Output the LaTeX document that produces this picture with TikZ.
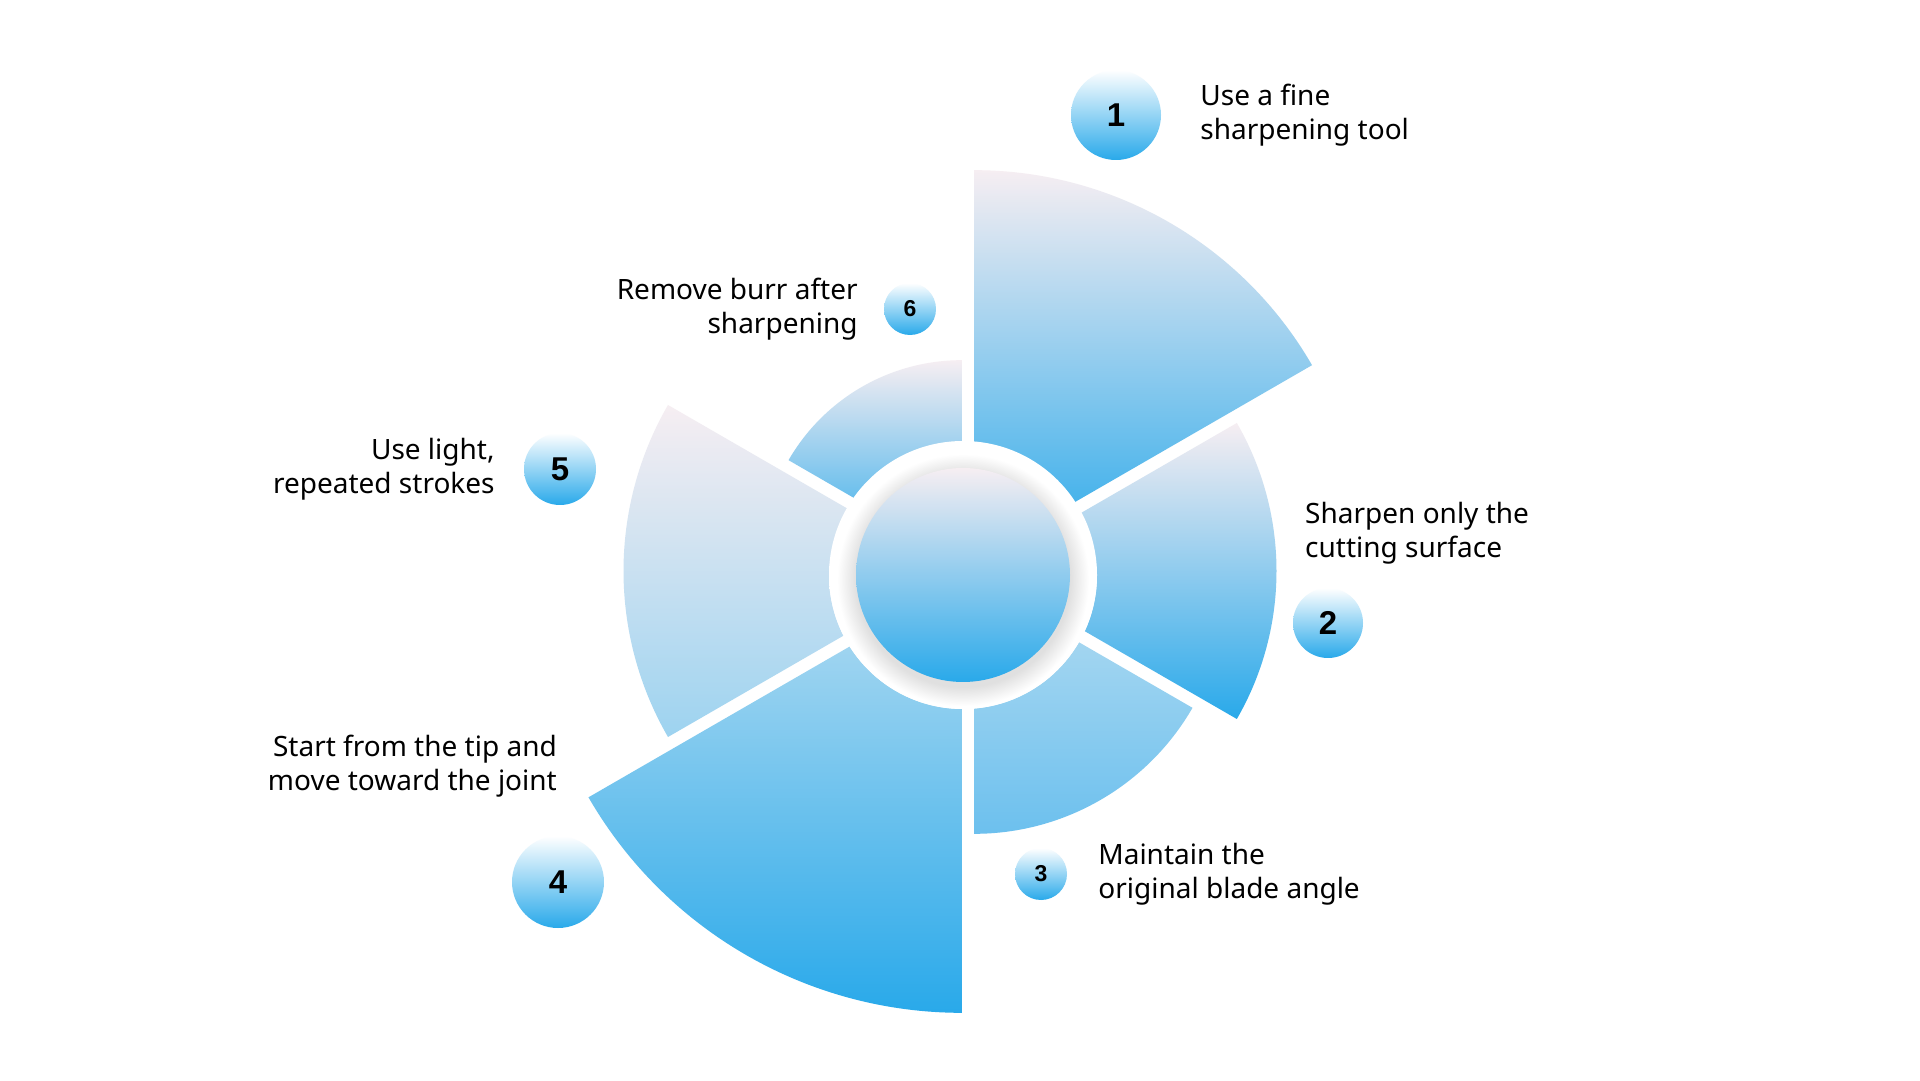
\documentclass[tikz,border=0pt]{standalone}
\usepackage{fontspec}
\setmainfont{Noto Sans}
\newfontfamily\numfont{Liberation Sans}
\usetikzlibrary{calc,positioning}

\definecolor{sky}{HTML}{29A9EA}
\definecolor{blush}{HTML}{F6EEF2}
\definecolor{pale}{HTML}{B4DCF1}
\definecolor{midsky}{HTML}{6CC0EE}
\definecolor{soft}{HTML}{9DD3F0}
% soft shadow of the hub on the white ring
\pgfdeclareradialshading{ringshade}{\pgfpointorigin}{color(0bp)=(black!12); color(20bp)=(black!12); color(23.5bp)=(white); color(50bp)=(white)}

\begin{document}
\begin{tikzpicture}[x=1pt,y=1pt,
    badge/.style={circle,shade,top color=white,bottom color=sky,inner sep=0pt},
    lbl/.style={inner sep=0pt,font=\fontsize{28}{34.5}\selectfont}]
  \fill[white] (0,0) rectangle (1920,1080);
  \coordinate (p) at (968,509);
  \coordinate (c) at (963,505);
  % sectors: mid angle / radius / top colour / bottom colour
  \foreach \m/\r/\tc/\bc in {60/390/blush/sky,0/296/blush/sky,-60/252/pale/midsky,
      -120/431/pale/sky,180/332/blush/soft,120/200/blush/sky}
    \shade[top color=\tc,bottom color=\bc] ($(p)+(\m:12.5)$) -- ++(\m-30:\r)
      arc[start angle=\m-30,end angle=\m+30,radius=\r] -- cycle;
  % hub
  \fill[white] (c) circle[radius=134];
  \begin{scope}
    \clip (c) circle[radius=134];
    \shade[shading=ringshade] ($(c)+(0,-5)$) circle[radius=134];
  \end{scope}
  \shade[top color=blush,bottom color=sky] (c) circle[radius=107];
  % number badges
  \foreach \n/\x/\y/\s/\f in {1/1116/965/90/33,2/1328/457/70/33,3/1041/206/52/23,
      4/558/198/92/33,5/560/611/72/33,6/910/771/52/23}
    \node[badge,minimum size=\s pt,font=\numfont\bfseries\fontsize{\f}{\f}\selectfont] (b\n) at (\x,\y) {\n};
  % labels
  \node[lbl,align=left,right=39pt of b1] (t1) {Use a fine\\sharpening tool};
  \node[lbl,align=left,above=23pt of b2,anchor=south west,xshift=-23pt] (t2) {Sharpen only the\\cutting surface};
  \node[lbl,align=left,right=31pt of b3] (t3) {Maintain the\\original blade angle};
  \node[lbl,align=right,above=38pt of b4,anchor=south east,xshift=-1pt] (t4) {Start from the tip and\\move toward the joint};
  \node[lbl,align=right,left=29pt of b5] (t5) {Use light,\\repeated strokes};
  \node[lbl,align=right,left=26pt of b6] (t6) {Remove burr after\\sharpening};
\end{tikzpicture}
\end{document}
